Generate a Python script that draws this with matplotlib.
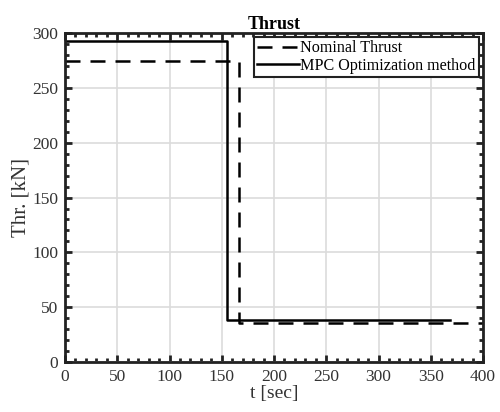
import matplotlib
matplotlib.use("Agg")
import matplotlib.pyplot as plt
from matplotlib.ticker import MultipleLocator

plt.rcParams['font.family'] = ['Liberation Serif', 'DejaVu Serif']

# step profiles (time [sec], thrust [kN])
nominal_t = [0, 166.5, 166.5, 400]
nominal_thr = [274, 274, 36, 36]
mpc_t = [0, 155.5, 155.5, 368.5]
mpc_thr = [293, 293, 38, 38]

fig = plt.figure(figsize=(5, 4.12), dpi=100)
ax = fig.add_axes([0.13, 0.121, 0.836, 0.799])

ax.plot(nominal_t, nominal_thr, 'k--', linewidth=1.8, dashes=(6, 4), label='Nominal Thrust')
ax.plot(mpc_t, mpc_thr, 'k-', linewidth=1.8, label='MPC Optimization method')

ax.set_xlim(0, 400)
ax.set_ylim(0, 300)
ax.xaxis.set_major_locator(MultipleLocator(50))
ax.yaxis.set_major_locator(MultipleLocator(50))
ax.xaxis.set_minor_locator(MultipleLocator(10))
ax.yaxis.set_minor_locator(MultipleLocator(10))
ax.grid(True, which='major', color='#dcdcdc', linewidth=1.2)
ax.set_axisbelow(True)

ax.tick_params(which='both', direction='in', top=True, right=True, labelsize=12.5,
               colors='#222222', labelcolor='#333333', pad=5)
ax.tick_params(which='major', length=5, width=2)
ax.tick_params(which='minor', length=3, width=2)
for s in ax.spines.values():
    s.set_linewidth(2)
    s.set_color('#222222')

ax.set_xlabel('t [sec]', fontsize=14, labelpad=0, color='#333333')
ax.set_ylabel('Thr. [kN]', fontsize=15, labelpad=1, color='#333333')
ax.set_title('Thrust', fontsize=13, fontweight='bold', pad=3)

leg = ax.legend(loc='upper right', fontsize=11.6, frameon=True, fancybox=False,
                borderpad=0.2, handlelength=2.6, handletextpad=0.1,
                labelspacing=0.1, borderaxespad=0.25)
leg.get_frame().set_edgecolor('#222222')
leg.get_frame().set_linewidth(1.5)
leg.get_frame().set_alpha(1)

fig.savefig('out.png', dpi=100)
